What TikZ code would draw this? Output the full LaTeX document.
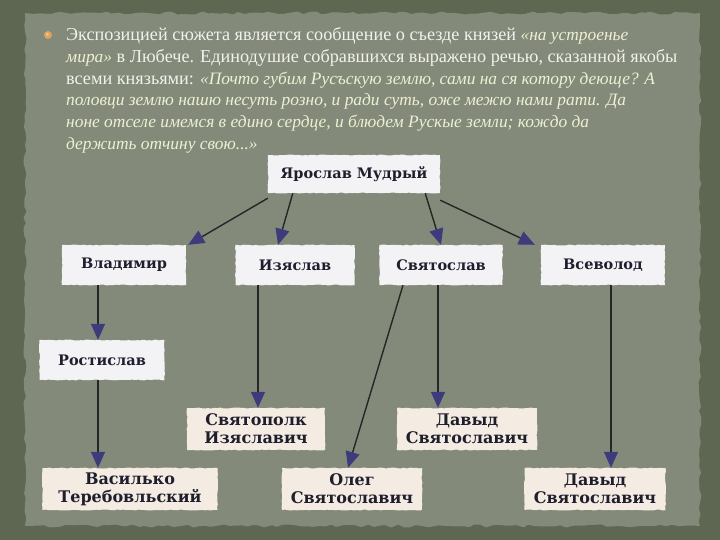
\documentclass[tikz,border=0pt]{standalone}
\usepackage{fontspec}
\setmainfont{Liberation Serif}
\newfontfamily\cardfont{DejaVu Serif}
\usetikzlibrary{arrows.meta,decorations.pathmorphing,calc}
\definecolor{outerbg}{HTML}{5D6752}
\definecolor{panelbg}{HTML}{838A7A}
\definecolor{txtwhite}{HTML}{F2F2EC}
\definecolor{txtital}{HTML}{EEF0D2}
\definecolor{tipblue}{HTML}{3E3B7C}
\definecolor{cardwhite}{HTML}{F3F3F6}
\definecolor{cardcream}{HTML}{F4ECE2}
\definecolor{cardink}{HTML}{1E1E2C}
\definecolor{bulletor}{HTML}{E3A25A}
\newcommand{\itq}[1]{{\itshape\color{txtital}\fontsize{17.4}{21}\selectfont#1}}
\tikzset{
  card/.style={draw=none, fill=cardwhite, inner sep=0pt, align=center,
    font=\cardfont\bfseries\fontsize{14.5}{16}\selectfont, text=cardink,
    decorate, decoration={random steps, segment length=3pt, amplitude=0.5pt}},
  cream/.style={card, fill=cardcream, font=\cardfont\bfseries\fontsize{16}{18}\selectfont},
  link/.style={draw=black!85, line width=1.4pt,
    -{Triangle[length=16pt,width=14pt,color=tipblue]}},
  txt/.style={anchor=base west, inner sep=0pt, text=txtwhite,
    font=\fontsize{18.2}{21}\selectfont},
  ital/.style={txt, text=txtital, font=\itshape\fontsize{17.4}{21}\selectfont}
}
\pgfmathsetseed{7}
\begin{document}
\begin{tikzpicture}[x=1pt,y=-1pt]
\fill[outerbg] (0,0) rectangle (720,540);
\useasboundingbox (0,0) rectangle (720,540);
\fill[panelbg, decorate, decoration={random steps, segment length=6pt, amplitude=1.5pt}]
  (25,13) rectangle (700,526);
% bullet
\fill[bulletor] (48,35) circle (4pt);
\fill[bulletor!60!white] (47.3,34.3) circle (1.5pt);
% text lines
\node[txt] (l1) at (66,41) {Экспозицией сюжета является сообщение о съезде князей \itq{«на устроенье}};
\node[txt] (l2) at (66,63) {\itq{мира»} в Любече. Единодушие собравшихся выражено речью, сказанной якобы};
\node[txt] (l3) at (66,85) {всеми князьями: \itq{«Почто губим Русъскую землю, сами на ся котору деюще? А}};
\node[ital] (l4) at (66,106) {половци землю нашю несуть розно, и ради суть, оже межю нами рати. Да};
\node[ital] (l5) at (66,128) {ноне отселе имемся в едино сердце, и блюдем Рускые земли; кождо да};
\node[ital] (l6) at (66,150) {держить отчину свою...»};
% cards
\node[card, minimum width=172pt, minimum height=38pt] (yar) at (354,174) {Ярослав Мудрый};
\node[card, minimum width=124pt, minimum height=40pt] (vlad) at (124,265) {Владимир};
\node[card, minimum width=119pt, minimum height=40pt] (izy) at (295,265) {Изяслав};
\node[card, minimum width=123pt, minimum height=40pt] (svya) at (441,265) {Святослав};
\node[card, minimum width=124pt, minimum height=40pt] (vse) at (603,265) {Всеволод};
\node[card, minimum width=125pt, minimum height=40pt] (rost) at (102,360) {Ростислав};
\node[cream, minimum width=138pt, minimum height=42pt] (svp) at (256,429) {Святополк\\Изяславич};
\node[cream, minimum width=140pt, minimum height=42pt] (dav1) at (467,429) {Давыд\\Святославич};
\node[cream, minimum width=175pt, minimum height=42pt] (vas) at (130,489) {Василько\\Теребовльский};
\node[cream, minimum width=140pt, minimum height=42pt] (oleg) at (352,489) {Олег\\Святославич};
\node[cream, minimum width=141pt, minimum height=42pt] (dav2) at (595,489) {Давыд\\Святославич};
% connectors
\draw[link] ([yshift=-5pt]yar.south west) -- ([xshift=2pt]vlad.north east);
\draw[link] ([xshift=25pt]yar.south west) -- ([xshift=-17pt]izy.north);
\draw[link] ([xshift=-15pt]yar.south east) -- (svya.north);
\draw[link] ([yshift=-7pt]yar.south east) -- ([xshift=-6pt]vse.north west);
\draw[link] ([xshift=-4pt]rost.north |- vlad.south) -- ([xshift=-4pt]rost.north);
\draw[link] ([xshift=-4pt]rost.south) -- ([xshift=-4pt]rost.south |- vas.north);
\draw[link] ([xshift=2pt]svp.north |- izy.south) -- ([xshift=2pt]svp.north);
\draw[link] ([xshift=-38pt]svya.south) -- ([xshift=-4pt]oleg.north);
\draw[link] ([xshift=-3pt]svya.south) -- ([xshift=-3pt]svya.south |- dav1.north);
\draw[link] ([xshift=8pt]vse.south) -- ([xshift=8pt]vse.south |- dav2.north);
\end{tikzpicture}
\end{document}
